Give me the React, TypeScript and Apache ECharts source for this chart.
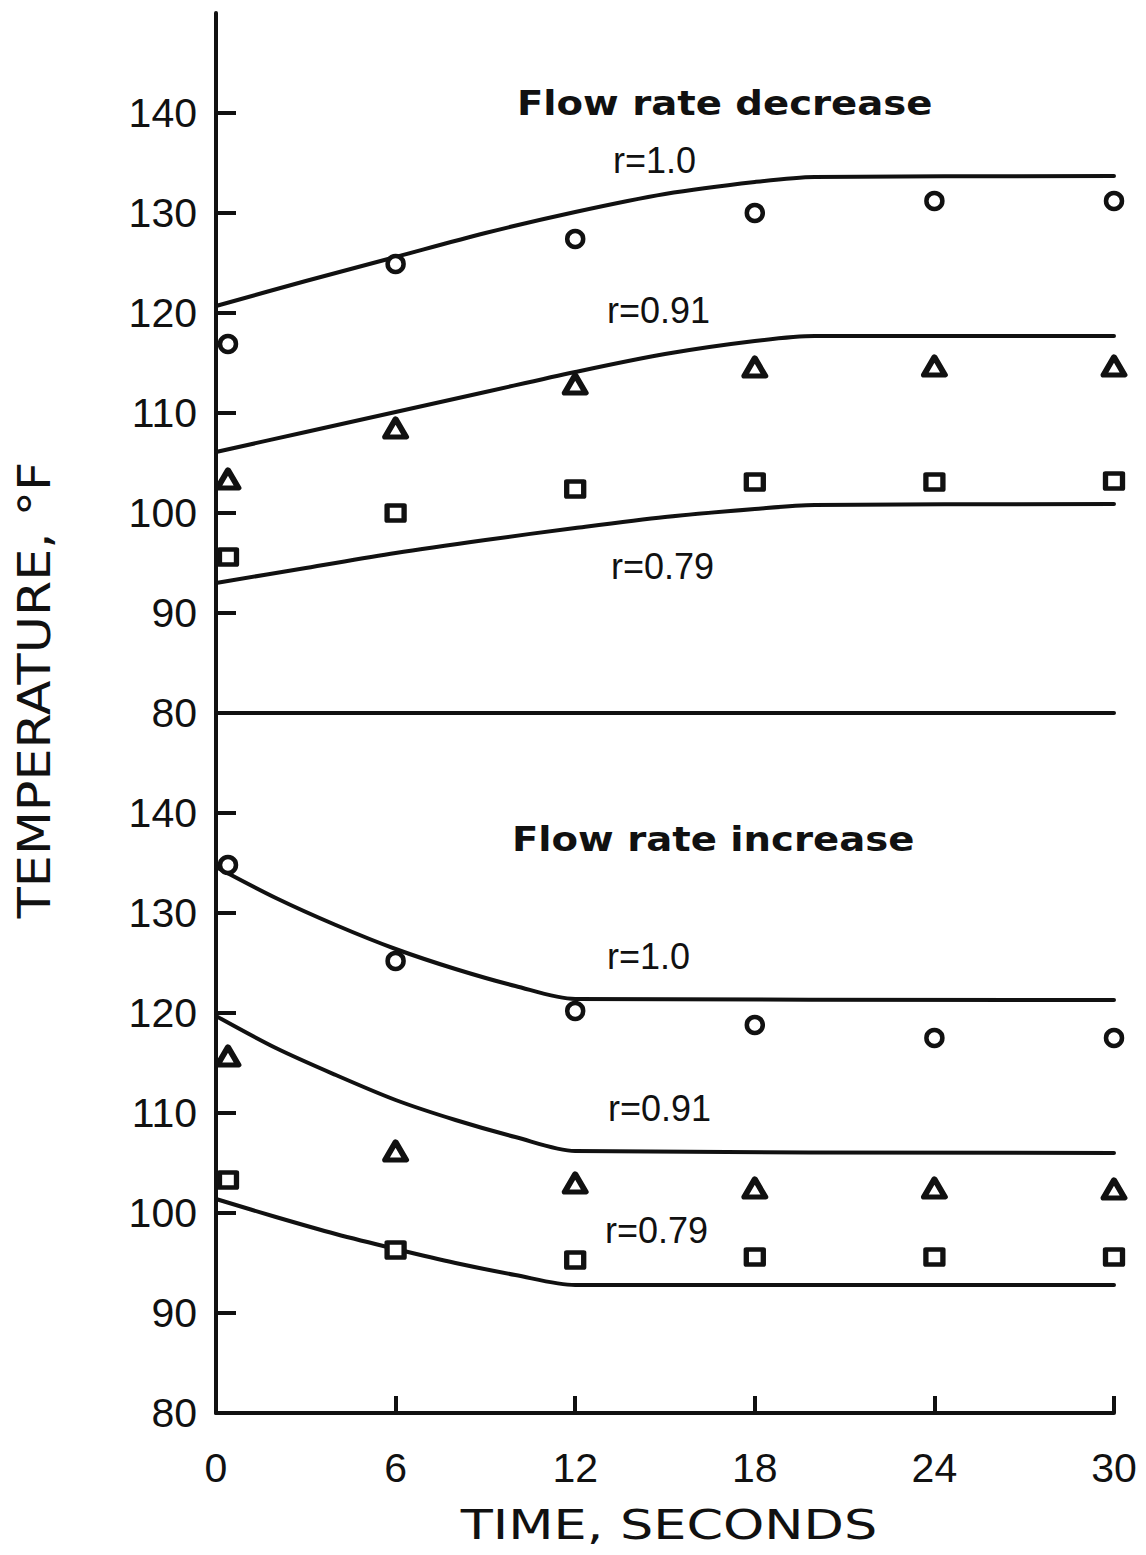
import React, { useEffect, useRef } from "react";
import * as echarts from "echarts";

// ---- axis ticks ----
const Y_TICKS = [80, 90, 100, 110, 120, 130, 140];
const X_TICKS_INNER = [6, 12, 18, 24, 30];

// ---- Flow rate decrease (top panel) : computed curves [time s, temp F] ----
const decLineR100: number[][] = [[0, 120.7], [3, 123.2], [6, 125.6], [9, 128.0], [12, 130.1], [15, 131.9], [18, 133.1], [20, 133.6], [30, 133.7]];
const decLineR091: number[][] = [[0, 106.1], [3, 108.1], [6, 110.1], [9, 112.1], [12, 114.1], [15, 115.9], [18, 117.2], [20, 117.7], [30, 117.7]];
const decLineR079: number[][] = [[0, 93.0], [3, 94.5], [6, 96.0], [9, 97.3], [12, 98.5], [15, 99.6], [18, 100.4], [20, 100.8], [30, 100.9]];
// measured points
const decPtsR100: number[][] = [[0.4, 116.9], [6, 124.9], [12, 127.4], [18, 130.0], [24, 131.2], [30, 131.2]];
const decPtsR091: number[][] = [[0.4, 103.4], [6, 108.5], [12, 112.9], [18, 114.6], [24, 114.7], [30, 114.7]];
const decPtsR079: number[][] = [[0.4, 95.6], [6, 100.0], [12, 102.4], [18, 103.1], [24, 103.1], [30, 103.2]];

// ---- Flow rate increase (bottom panel) ----
const incLineR100: number[][] = [[0, 134.6], [2, 131.5], [4, 128.8], [6, 126.4], [8, 124.4], [10, 122.7], [12, 121.4], [30, 121.3]];
const incLineR091: number[][] = [[0, 119.7], [2, 116.5], [4, 113.8], [6, 111.3], [8, 109.3], [10, 107.6], [12, 106.2], [30, 106.0]];
const incLineR079: number[][] = [[0, 101.4], [2, 99.6], [4, 97.9], [6, 96.4], [8, 95.0], [10, 93.8], [12, 92.8], [30, 92.8]];
const incPtsR100: number[][] = [[0.4, 134.8], [6, 125.2], [12, 120.2], [18, 118.8], [24, 117.5], [30, 117.5]];
const incPtsR091: number[][] = [[0.4, 115.7], [6, 106.2], [12, 103.0], [18, 102.5], [24, 102.5], [30, 102.4]];
const incPtsR079: number[][] = [[0.4, 103.3], [6, 96.3], [12, 95.3], [18, 95.6], [24, 95.6], [30, 95.6]];

const INK = "#111";
const AXIS_W = 4;
const TICK_FONT = '"Liberation Sans", Arial, sans-serif';
const TITLE_FONT = '"DejaVu Sans", sans-serif';

function curve(data: number[][], idx: number) {
  return {
    type: "line",
    xAxisIndex: idx,
    yAxisIndex: idx,
    data,
    symbol: "none",
    showSymbol: false,
    smooth: 0.3,
    lineStyle: { color: INK, width: 4, cap: "round", join: "round" },
    z: 2,
    silent: true,
  };
}

function marks(data: number[][], idx: number, symbol: string, size: any, bw: number) {
  return {
    type: "scatter",
    xAxisIndex: idx,
    yAxisIndex: idx,
    data,
    symbol,
    symbolSize: size,
    itemStyle: { color: "#fff", borderColor: INK, borderWidth: bw, borderJoin: "round", opacity: 1 },
    z: 3,
    silent: true,
  };
}

function xAxis(idx: number, withLabels: boolean) {
  return {
    gridIndex: idx,
    type: "value",
    min: 0,
    max: 30,
    interval: 6,
    axisLine: { show: true, onZero: false, lineStyle: { color: INK, width: AXIS_W } },
    axisTick: withLabels
      ? { show: true, inside: true, length: 17, customValues: X_TICKS_INNER, lineStyle: { color: INK, width: AXIS_W } }
      : { show: false },
    axisLabel: withLabels
      ? { show: true, margin: 34, fontSize: 41, fontFamily: TICK_FONT, color: INK }
      : { show: false },
    splitLine: { show: false },
  };
}

function yAxis(idx: number) {
  return {
    gridIndex: idx,
    type: "value",
    min: 80,
    max: 150,
    interval: 10,
    axisLine: { show: true, onZero: false, lineStyle: { color: INK, width: AXIS_W } },
    axisTick: { show: true, inside: true, length: 20, customValues: Y_TICKS, lineStyle: { color: INK, width: AXIS_W } },
    axisLabel: { show: true, customValues: Y_TICKS, margin: 19, fontSize: 41, fontFamily: TICK_FONT, color: INK },
    splitLine: { show: false },
  };
}

function label(text: string, x: number, y: number, font: string, scaleX = 1, align = "left", rotation = 0) {
  return {
    type: "text",
    x,
    y,
    scaleX,
    rotation,
    silent: true,
    style: {
      text,
      font,
      fill: INK,
      align,
      textAlign: align,
      verticalAlign: "middle",
      textVerticalAlign: "middle",
    },
  };
}

export default function App() {
  const ref = useRef<HTMLDivElement>(null);

  useEffect(() => {
    if (!ref.current) return;
    const chart = echarts.init(ref.current, null, { renderer: "svg" });
    const rFont = `36px ${TICK_FONT}`;
    const headFont = `bold 33px ${TITLE_FONT}`;
    chart.setOption({
      animation: false,
      backgroundColor: "#fff",
      grid: [
        { left: 216, top: 13, width: 898, height: 700 },
        { left: 216, top: 713, width: 898, height: 700 },
      ],
      xAxis: [xAxis(0, false), xAxis(1, true)],
      yAxis: [yAxis(0), yAxis(1)],
      series: [
        curve(decLineR100, 0),
        curve(decLineR091, 0),
        curve(decLineR079, 0),
        marks(decPtsR100, 0, "circle", 16, 4.5),
        marks(decPtsR091, 0, "triangle", [21, 18], 5.5),
        marks(decPtsR079, 0, "rect", [17, 15], 5),
        curve(incLineR100, 1),
        curve(incLineR091, 1),
        curve(incLineR079, 1),
        marks(incPtsR100, 1, "circle", 16, 4.5),
        marks(incPtsR091, 1, "triangle", [21, 18], 5.5),
        marks(incPtsR079, 1, "rect", [17, 15], 5),
      ],
      graphic: [
        label("TEMPERATURE, °F", 34, 690, `45px ${TITLE_FONT}`, 1.13, "center", Math.PI / 2),
        label("TIME, SECONDS", 669, 1525, `41px ${TITLE_FONT}`, 1.28, "center"),
        label("Flow rate decrease", 517, 104, headFont, 1.17),
        label("Flow rate increase", 512, 840, headFont, 1.17),
        label("r=1.0", 613, 160, rFont),
        label("r=0.91", 607, 310, rFont),
        label("r=0.79", 611, 566, rFont),
        label("r=1.0", 607, 956, rFont),
        label("r=0.91", 608, 1108, rFont),
        label("r=0.79", 605, 1230, rFont),
      ],
    });
    return () => chart.dispose();
  }, []);

  return (
    <div
      ref={ref}
      style={{ position: "absolute", left: 0, top: 0, width: 1146, height: 1555, background: "#fff" }}
    />
  );
}
